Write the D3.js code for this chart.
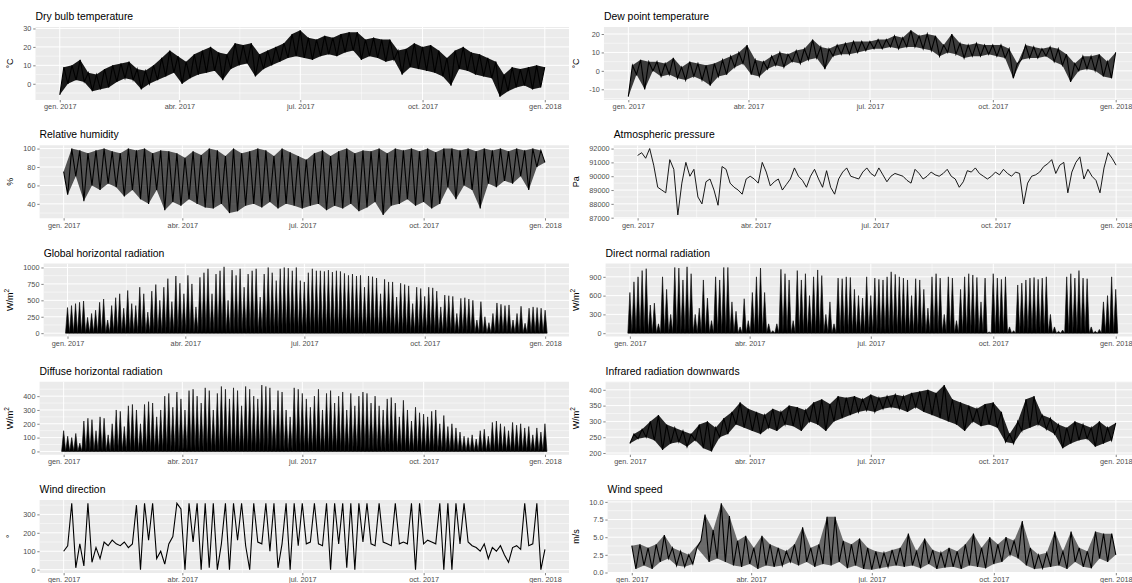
<!DOCTYPE html>
<html>
<head>
<meta charset="utf-8">
<script src="https://cdn.jsdelivr.net/npm/d3@7"></script>
<style>
  body { margin: 0; background: #fff; }
  svg { display: block; }
  text { font-family: "Liberation Sans", Arial, sans-serif; }
</style>
</head>
<body>
<div id="chart"></div>
<script>
// hourly weather file for 2017 at ~3 day steps
const seriesStart = new Date(2017, 0, 1, 0), seriesEnd = new Date(2017, 11, 31, 23);
const monthTicks = [new Date(2017, 0, 1), new Date(2017, 3, 1), new Date(2017, 6, 1), new Date(2017, 9, 1), new Date(2018, 0, 1)];
const monthLabels = ["gen. 2017", "abr. 2017", "jul. 2017", "oct. 2017", "gen. 2018"];

const dryBulb = [-6,9,0,10,2,13,1,6,-4,5,-3,8,-2,10,1,11,3,12,2,8,-3,7,0,10,2,14,4,18,6,15,
  0,12,3,16,5,18,6,20,7,17,2,16,8,22,10,21,11,22,4,16,8,18,10,20,12,22,14,27,15,29,
  14,25,13,24,15,26,16,25,15,27,17,28,18,28,13,24,15,25,14,24,12,24,13,18,5,19,9,22,8,20,
  7,21,6,18,4,14,-1,18,8,20,7,17,5,16,4,14,3,12,-7,5,-4,9,-2,8,-1,9,-3,10,-2,9];
const dewPoint = [-14,3,-2,6,-10,5,0,5,-3,4,-2,7,-4,2,-5,5,-3,4,-5,3,
  -8,4,-3,6,-2,8,2,10,4,14,-2,6,-3,5,1,8,3,10,2,9,
  5,11,4,12,6,17,7,13,1,12,8,14,9,15,9,16,10,16,11,16,
  12,17,12,17,13,19,12,18,13,22,13,19,12,20,11,19,8,14,10,20,
  9,15,7,14,8,15,8,14,9,14,8,14,7,12,-4,4,6,14,7,13,
  7,12,8,13,5,12,3,9,-6,4,0,8,1,8,0,9,-3,5,-4,10];
const humidity = [75,50,100,70,98,43,95,60,98,55,100,62,97,58,95,48,100,55,98,45,100,40,95,55,98,33,97,42,95,38,
  90,45,97,40,93,36,100,35,98,40,92,30,100,32,95,38,97,40,100,36,98,42,92,35,100,40,96,38,92,35,
  88,38,95,40,98,33,92,38,97,35,100,40,95,32,98,36,97,42,100,28,95,38,100,40,98,45,100,38,97,42,
  100,35,96,40,100,58,100,45,98,60,100,55,97,35,100,62,98,58,100,65,97,62,100,70,98,55,100,80,98,85];
const pressure = [91500,91700,91300,92000,90800,89200,89000,88800,91200,90500,87200,89500,91000,90000,90500,88500,88000,89600,89800,89000,
  87900,90700,90500,89500,89200,89000,88700,89800,90000,89800,89500,91000,90300,89300,89600,89800,89000,89400,89800,90600,
  90000,89700,89200,90000,90500,89800,89200,90400,89200,88700,89800,90300,90600,90000,89900,89800,90300,90600,90200,90000,
  90600,90100,89600,90000,90200,90100,90000,89700,89500,90500,90200,89800,90000,90300,90100,90000,90200,90500,90000,89800,
  89200,89600,90400,90300,90600,90200,90000,89800,90000,90300,90100,90500,90200,90000,90300,90200,88000,89500,90000,90100,
  90300,90700,90900,91200,90200,90800,91000,88800,90300,91000,91400,89800,90500,90000,89700,88800,90600,91700,91300,90800];
const globalRad = [390,420,450,470,490,240,300,350,470,520,200,420,540,600,380,650,450,420,700,600,
  320,640,740,500,700,830,480,870,760,600,880,750,400,850,920,980,600,900,950,1010,
  500,960,880,980,700,900,950,980,550,900,1000,920,800,980,1000,990,950,1000,800,780,
  920,980,950,950,940,960,930,950,940,910,880,900,870,880,700,870,860,840,600,820,
  780,780,550,760,740,720,450,700,680,560,700,690,640,400,580,570,560,300,530,540,
  520,500,200,480,250,160,300,460,440,420,430,200,300,410,150,380,400,390,380,350];
const directRad = [650,820,900,1000,1030,450,480,150,900,700,300,1050,1040,850,1060,950,300,400,850,560,
  200,900,850,1050,1050,500,350,100,550,200,650,900,1040,650,150,40,150,1020,950,850,
  200,1000,850,950,600,900,1010,920,300,500,150,880,870,900,890,700,600,560,900,600,
  880,860,850,900,980,940,900,880,850,600,870,850,700,400,900,950,880,300,900,880,
  200,700,900,950,930,890,500,880,20,950,880,860,900,100,40,770,800,850,880,890,
  860,880,900,300,100,30,50,900,950,880,1000,880,870,100,30,60,500,600,900,700];
const diffuseRad = [150,110,100,130,60,220,240,230,150,250,240,120,200,300,290,180,330,340,300,200,
  340,360,350,250,300,400,420,320,430,380,300,440,450,400,350,460,440,300,420,470,
  450,380,460,440,330,470,450,400,380,480,470,460,300,440,430,300,250,460,450,420,
  380,320,400,450,300,420,440,350,400,430,300,420,330,400,430,420,350,400,330,300,
  380,390,350,250,370,300,220,320,280,270,250,290,300,200,260,180,200,170,140,110,
  100,120,90,150,160,110,210,220,200,180,150,210,190,200,170,180,120,170,140,200];
const infrared = [230,260,245,275,250,300,240,320,210,290,230,280,235,270,220,260,240,290,215,300,
  205,280,250,310,260,330,290,360,280,340,270,330,260,320,280,340,270,330,290,350,
  285,345,270,335,300,360,290,370,270,355,300,380,310,375,320,380,330,370,335,385,
  330,375,340,380,345,385,340,380,330,390,345,395,330,400,320,390,310,415,300,370,
  290,360,270,350,300,340,285,355,290,360,280,330,235,260,230,300,270,370,280,380,
  290,320,275,310,260,290,215,280,230,300,240,290,245,280,220,300,230,280,240,295];
const windDir = [100,130,360,10,140,20,360,40,120,60,150,130,160,140,130,150,120,140,350,0,
  360,160,360,60,100,30,140,180,360,330,0,360,150,360,0,360,10,360,0,140,
  360,0,360,160,360,130,0,360,150,140,360,100,360,10,140,360,0,360,130,360,
  140,150,360,140,130,360,0,360,140,360,10,360,0,360,150,360,140,130,360,150,
  140,130,360,140,150,140,360,0,360,140,160,150,140,360,0,360,0,360,140,360,
  150,130,120,100,140,60,120,100,130,80,40,120,130,110,360,130,140,360,0,110];
const windSpeed = [3.8,0.5,4.0,1.0,3.5,0.5,4.0,1.5,5.3,2.0,3.5,1.0,3.0,0.8,2.5,1.2,3.5,4.5,8.2,1.5,
  6.0,2.0,9.8,1.5,8.0,1.0,4.5,0.8,5.2,1.2,3.5,0.5,5.2,1.0,4.0,0.8,3.5,1.0,3.0,1.5,
  4.0,1.0,6.4,1.5,3.5,0.8,4.0,1.2,7.9,1.0,7.9,1.5,4.5,0.6,4.0,1.0,4.8,0.5,3.5,0.4,
  3.0,0.6,2.8,0.8,3.2,1.0,3.5,0.8,5.5,1.0,3.0,0.6,4.8,1.2,3.2,0.5,2.8,0.7,3.5,0.8,
  3.0,0.5,4.0,1.0,5.5,0.8,3.5,0.6,5.0,1.2,4.0,1.5,5.0,2.5,4.5,2.0,7.3,1.0,3.5,0.5,
  2.5,0.6,2.8,0.8,5.8,1.0,3.0,0.5,5.8,1.5,3.5,0.8,3.0,0.6,5.8,2.0,5.5,1.5,5.5,2.5];

const dryBulbTicks = [0, 10, 20, 30];
const dewPointTicks = [-10, 0, 10, 20];
const humidityTicks = [40, 60, 80, 100];
const pressureTicks = [87000, 88000, 89000, 90000, 91000, 92000];
const globalRadTicks = [0, 250, 500, 750, 1000];
const directRadTicks = [0, 300, 600, 900];
const diffuseRadTicks = [0, 100, 200, 300, 400];
const infraredTicks = [200, 250, 300, 350, 400];
const windDirTicks = [0, 100, 200, 300];
const windSpeedTicks = [0, 2.5, 5, 7.5, 10];

// mark: "band" = daily swing filled plus the line, "line" = plain line, "spike" = daily radiation peaks
const panels = [
    {title: "Dry bulb temperature", unit: "°C", values: dryBulb, ticks: dryBulbTicks, col: 0, row: 0, mark: "band", shade: 0.9},
    {title: "Dew point temperature", unit: "°C", values: dewPoint, ticks: dewPointTicks, col: 1, row: 0, mark: "band", shade: 0.75},
    {title: "Relative humidity", unit: "%", values: humidity, ticks: humidityTicks, col: 0, row: 1, mark: "band", shade: 0.65},
    {title: "Atmospheric pressure", unit: "Pa", values: pressure, ticks: pressureTicks, col: 1, row: 1, mark: "line"},
    {title: "Global horizontal radiation", unit: "W/m2", values: globalRad, ticks: globalRadTicks, col: 0, row: 2, mark: "spike"},
    {title: "Direct normal radiation", unit: "W/m2", values: directRad, ticks: directRadTicks, col: 1, row: 2, mark: "spike"},
    {title: "Diffuse horizontal radiation", unit: "W/m2", values: diffuseRad, ticks: diffuseRadTicks, col: 0, row: 3, mark: "spike"},
    {title: "Infrared radiation downwards", unit: "W/m2", values: infrared, ticks: infraredTicks, col: 1, row: 3, mark: "band", shade: 0.85},
    {title: "Wind direction", unit: "°", values: windDir, ticks: windDirTicks, col: 0, row: 4, mark: "line"},
    {title: "Wind speed", unit: "m/s", values: windSpeed, ticks: windSpeedTicks, col: 1, row: 4, mark: "band", shade: 0.55, format: d3.format(".1f")}
];

const width = 1132, height = 583;
const colX = [0, 566], colRight = [569, 1140];
const rowH = 118.25, rowOffset = 3;
const tickFont = 7.3, titleFont = 10.4, unitFont = 9;
const bg = "#EBEBEB";

const svg = d3.select("#chart").append("svg")
    .attr("width", width)
    .attr("height", height);

panels.forEach((p, k) => {
    const top = rowOffset + p.row * rowH;
    const fmt = p.format || (d => String(d));
    const g = svg.append("g").attr("class", "panel");

    // widest tick label sets the panel's left edge, like ggplot does
    const probe = g.append("text").attr("font-size", tickFont);
    const labelW = d3.max(p.ticks, t => probe.text(fmt(t)).node().getComputedTextLength());
    probe.remove();

    const x0 = colX[p.col] + 27.4 + labelW, x1 = colRight[p.col];
    const y0 = top + 24, y1 = top + 97;

    /** scales with the 5% expansion */
    const pad = (x1 - x0) / 1.1 * 0.05;
    const x = d3.scaleTime().domain([seriesStart, seriesEnd]).range([x0 + pad, x1 - pad]);
    const n = p.values.length;
    const times = p.values.map((v, i) => new Date(+seriesStart + i * (seriesEnd - seriesStart) / (n - 1)));
    let [lo, hi] = d3.extent(p.values);
    if (p.mark === "spike") lo = 0;
    const ex = (hi - lo) * 0.05;
    const y = d3.scaleLinear().domain([lo - ex, hi + ex]).range([y1, y0]);

    const clipId = "clip" + k;
    g.append("clipPath").attr("id", clipId)
        .append("rect").attr("x", x0).attr("y", y0).attr("width", x1 - x0).attr("height", y1 - y0);

    g.append("rect")
        .attr("x", x0).attr("y", y0)
        .attr("width", x1 - x0).attr("height", y1 - y0)
        .attr("fill", bg);

    /** grid */
    const step = p.ticks[1] - p.ticks[0];
    const minorY = [p.ticks[0] - step / 2].concat(p.ticks.map(t => t + step / 2))
        .filter(v => v >= y.domain()[0] && v <= y.domain()[1]);
    const minorX = monthTicks.slice(1).map((d, i) => new Date((+d + +monthTicks[i]) / 2));
    const grid = g.append("g").attr("clip-path", `url(#${clipId})`);
    grid.selectAll(".minor-y").data(minorY).join("line")
        .attr("x1", x0).attr("x2", x1)
        .attr("y1", d => y(d)).attr("y2", d => y(d))
        .attr("stroke", "#fff").attr("stroke-width", 0.5);
    grid.selectAll(".minor-x").data(minorX).join("line")
        .attr("x1", d => x(d)).attr("x2", d => x(d))
        .attr("y1", y0).attr("y2", y1)
        .attr("stroke", "#fff").attr("stroke-width", 0.5);
    grid.selectAll(".major-y").data(p.ticks).join("line")
        .attr("x1", x0).attr("x2", x1)
        .attr("y1", d => y(d)).attr("y2", d => y(d))
        .attr("stroke", "#fff").attr("stroke-width", 1);
    grid.selectAll(".major-x").data(monthTicks).join("line")
        .attr("x1", d => x(d)).attr("x2", d => x(d))
        .attr("y1", y0).attr("y2", y1)
        .attr("stroke", "#fff").attr("stroke-width", 1);

    /** data */
    const content = g.append("g").attr("clip-path", `url(#${clipId})`);
    if (p.mark === "spike") {
        // one narrow peak per reading, rising from the night-time zero
        const half = (x(times[1]) - x(times[0])) / 2;
        content.selectAll("path.mark").data(p.values).join("path")
            .attr("class", "mark")
            .attr("d", (d, i) => {
                const cx = x(times[i]);
                return `M${cx - half},${y(0)}L${cx},${y(d)}L${cx + half},${y(0)}Z`;
            })
            .attr("fill", "#000")
            .attr("stroke", "#000")
            .attr("stroke-width", 0.6);
    } else {
        if (p.mark === "band") {
            // the low and high reading of each pair, each at its own time
            const pairs = d3.range(Math.floor(n / 2)).map(j => {
                const a = p.values[2 * j], b = p.values[2 * j + 1];
                return a <= b
                    ? {tLo: times[2 * j], lo: a, tHi: times[2 * j + 1], hi: b}
                    : {tLo: times[2 * j + 1], lo: b, tHi: times[2 * j], hi: a};
            });
            const area = d3.area()
                .x0(d => x(d.tLo)).y0(d => y(d.lo))
                .x1(d => x(d.tHi)).y1(d => y(d.hi));
            content.append("path")
                .attr("d", area(pairs))
                .attr("fill", "#000")
                .attr("fill-opacity", p.shade);
        }
        const line = d3.line()
            .x((d, i) => x(times[i]))
            .y(d => y(d));
        content.append("path")
            .attr("d", line(p.values))
            .attr("fill", "none")
            .attr("stroke", "#000")
            .attr("stroke-width", p.unit === "Pa" ? 0.9 : 1.1)
            .attr("stroke-linejoin", "miter");
    }

    /** axes */
    const axisY = g.append("g")
        .attr("transform", `translate(${x0},0)`)
        .call(d3.axisLeft(y).tickValues(p.ticks).tickSize(2.3).tickPadding(1.85).tickFormat(fmt));
    const axisX = g.append("g")
        .attr("transform", `translate(0,${y1})`)
        .call(d3.axisBottom(x).tickValues(monthTicks).tickSize(2.3).tickPadding(1.85)
            .tickFormat((d, i) => monthLabels[i]));
    [axisY, axisX].forEach(a => {
        a.select(".domain").remove();
        a.selectAll("line").attr("stroke", "#333").attr("stroke-width", 0.6);
        a.selectAll("text")
            .attr("fill", "#4D4D4D")
            .attr("font-size", tickFont)
            .attr("font-family", "Liberation Sans, Arial, sans-serif");
    });

    /* labels */
    g.append("text")
        .attr("x", x0)
        .attr("y", top + 17)
        .attr("font-size", titleFont)
        .attr("fill", "#000")
        .text(p.title);

    const unit = g.append("text")
        .attr("transform", `translate(${colX[p.col] + 13},${(y0 + y1) / 2}) rotate(-90)`)
        .attr("text-anchor", "middle")
        .attr("font-size", unitFont)
        .attr("fill", "#000");
    if (p.unit === "W/m2") {
        unit.append("tspan").text("W/m");
        unit.append("tspan").attr("dy", -4).attr("font-size", 6.5).text("2");
    } else {
        unit.text(p.unit);
    }
});
</script>
</body>
</html>
